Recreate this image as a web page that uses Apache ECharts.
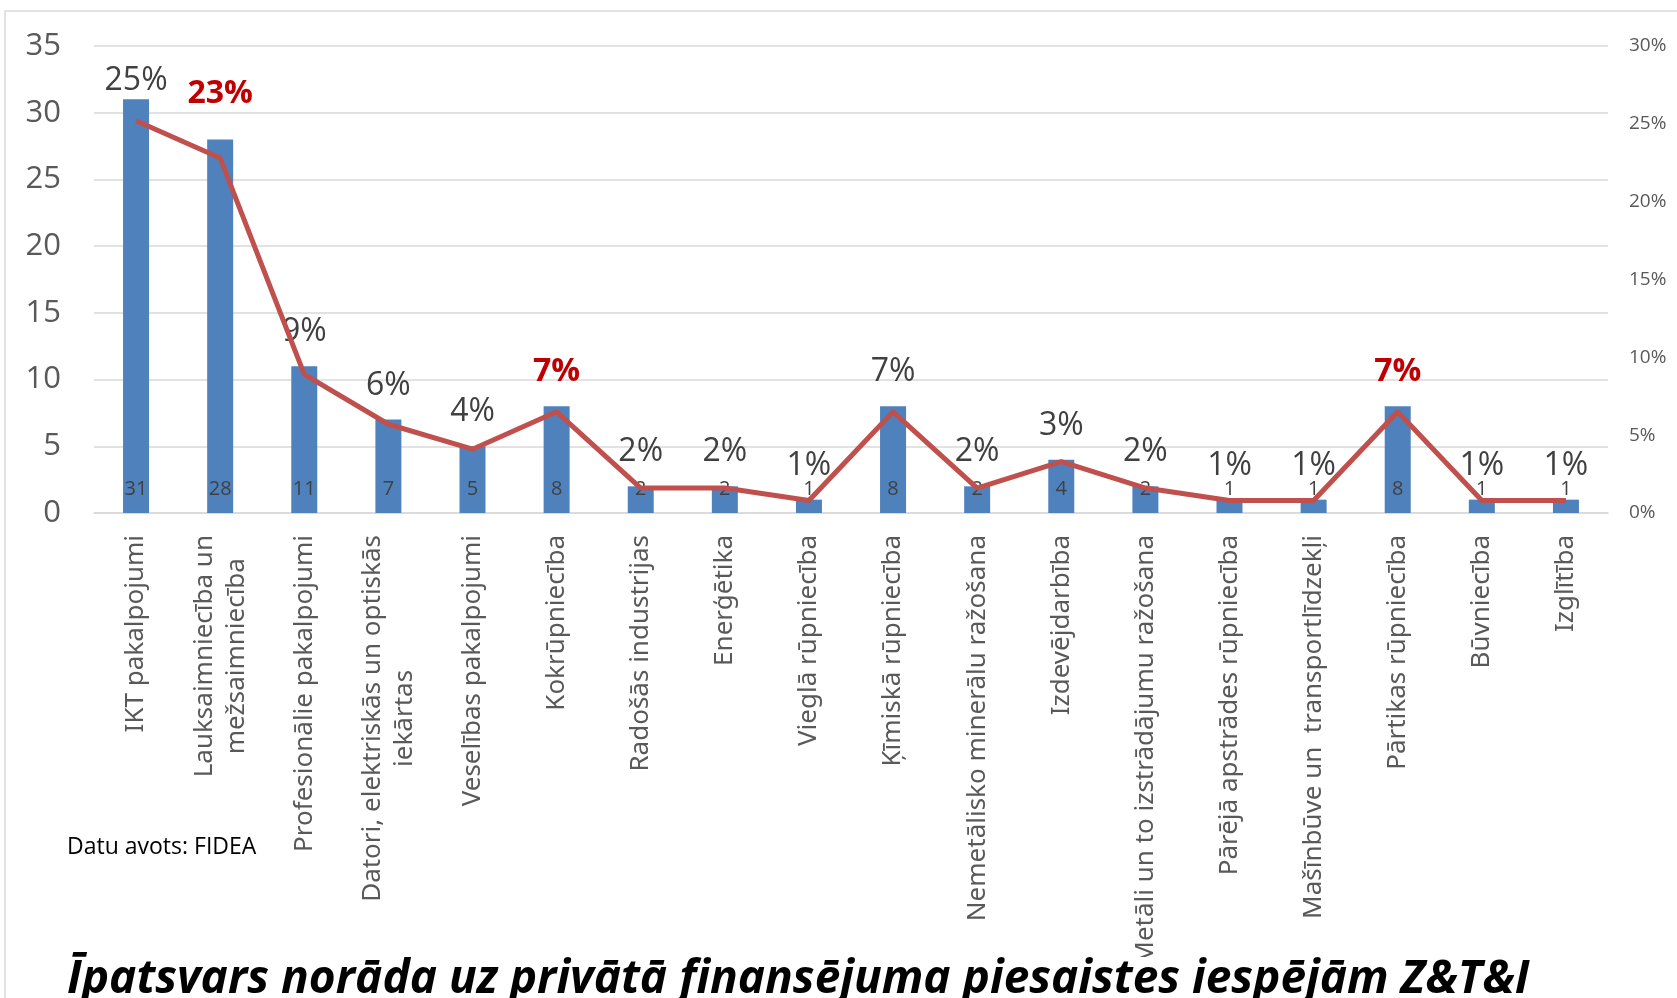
<!DOCTYPE html>
<html>
<head>
<meta charset="utf-8">
<script src="https://cdn.jsdelivr.net/npm/echarts@6/dist/echarts.min.js"></script>
<style>
  html, body { margin: 0; padding: 0; background: #fff; }
  #chart { width: 1677px; height: 998px; }
</style>
</head>
<body>
<div id="chart"></div>
<script>
    // nozares
    var categories = [
        'IKT pakalpojumi',
        'Lauksaimniecība un\nmežsaimniecība',
        'Profesionālie pakalpojumi',
        'Datori, elektriskās un optiskās\niekārtas',
        'Veselības pakalpojumi',
        'Kokrūpniecība',
        'Radošās industrijas',
        'Enerģētika',
        'Vieglā rūpniecība',
        'Ķīmiskā rūpniecība',
        'Nemetālisko minerālu ražošana',
        'Izdevējdarbība',
        'Metāli un to izstrādājumu ražošana',
        'Pārējā apstrādes rūpniecība',
        'Mašīnbūve un  transportlīdzekļi',
        'Pārtikas rūpniecība',
        'Būvniecība',
        'Izglītība'
    ];
    // skaits
    var counts = [31, 28, 11, 7, 5, 8, 2, 2, 1, 8, 2, 4, 2, 1, 1, 8, 1, 1];
    // īpatsvars, %
    var shares = [25.2, 22.8, 8.9, 5.7, 4.1, 6.5, 1.6, 1.6, 0.8, 6.5, 1.6, 3.3, 1.6, 0.8, 0.8, 6.5, 0.8, 0.8];
    // sarkanie (izceltie) procenti
    var highlighted = [1, 5, 15];
    var leftTicks = [0, 35, 5];
    var rightTicks = [0, 30, 5];

    var chart = echarts.init(document.getElementById('chart'));

    var barData = counts.map(function (v, i) {
        var item = {value: v};
        if (highlighted.indexOf(i) >= 0) {
            item.label = {color: '#C00000', fontWeight: 'bold', fontSize: 32};
        }
        if (i === 0) item.label = {distance: 2};
        if (i === 1) item.label.distance = 30;
        return item;
    });

    var option = {
        animation: false,
        backgroundColor: '#fff',
        grid: {left: 94, right: 69, top: 46, bottom: 485},
        xAxis: {
            type: 'category',
            data: categories,
            axisLine: {show: true, lineStyle: {color: '#d9d9d9', width: 1.5}},
            axisTick: {show: false},
            axisLabel: {
                interval: 0,
                rotate: 90,
                margin: 22,
                color: '#595959',
                fontFamily: 'Noto Sans',
                fontSize: 26,
                lineHeight: 32,
                formatter: function (v) {
                    return v.split('\n').map(function (l) { return '{c|' + l + '}'; }).join('\n');
                },
                rich: {c: {align: 'center', color: '#595959', fontFamily: 'Noto Sans', fontSize: 26, lineHeight: 32}}
            }
        },
        yAxis: [{
            type: 'value',
            min: leftTicks[0], max: leftTicks[1], interval: leftTicks[2],
            axisLine: {show: false},
            axisTick: {show: false},
            splitLine: {lineStyle: {color: '#d9d9d9', width: 1.5}},
            axisLabel: {color: '#595959', fontFamily: 'Open Sans', fontSize: 31, margin: 33}
        }, {
            type: 'value',
            min: rightTicks[0], max: rightTicks[1], interval: rightTicks[2],
            axisLine: {show: false},
            axisTick: {show: false},
            splitLine: {show: false},
            axisLabel: {color: '#595959', fontFamily: 'Open Sans', fontSize: 19, margin: 21, formatter: '{value}%'}
        }],
        series: [{
            type: 'bar',
            data: barData,
            barWidth: 26,
            itemStyle: {color: '#4F81BD'},
            label: {
                show: true,
                position: 'top',
                distance: 18,
                color: '#404040',
                fontFamily: 'Open Sans',
                fontSize: 32,
                formatter: function (p) { return Math.round(shares[p.dataIndex]) + '%'; }
            },
            z: 2
        }, {
            // skaita etiķetes joslas apakšā
            type: 'bar',
            data: counts,
            barWidth: 26,
            barGap: '-100%',
            itemStyle: {color: 'rgba(0,0,0,0)'},
            label: {
                show: true,
                position: 'insideBottom',
                distance: 14,
                color: '#404040',
                fontFamily: 'Open Sans',
                fontSize: 20
            },
            z: 3
        }, {
            type: 'line',
            yAxisIndex: 1,
            data: shares,
            symbol: 'none',
            lineStyle: {color: '#C0504D', width: 5},
            z: 4
        }],
        graphic: [{
            type: 'rect',
            shape: {x: 5, y: 11, width: 1700, height: 1000},
            style: {fill: 'none', stroke: '#d9d9d9', lineWidth: 1.5},
            z: -1
        }, {
            type: 'text',
            left: 67, top: 836,
            style: {text: 'Datu avots: FIDEA', fill: '#000', font: '23px "Open Sans"'}
        }, {
            type: 'text',
            left: 67, top: 957,
            z: 100,
            style: {
                text: 'Īpatsvars norāda uz privātā finansējuma piesaistes iespējām Z&T&I',
                fill: '#000',
                font: 'italic bold 46px "Open Sans"',
                backgroundColor: '#fff'
            }
        }]
    };

    chart.setOption(option);
</script>
</body>
</html>
